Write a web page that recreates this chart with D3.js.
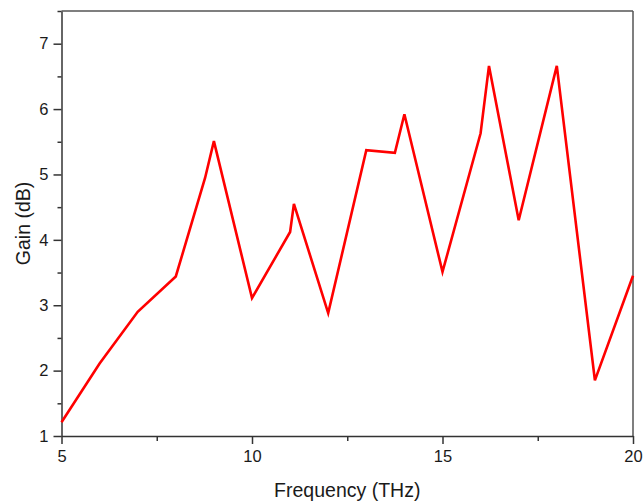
<!DOCTYPE html>
<html>
<head>
<meta charset="utf-8">
<script src="https://cdn.jsdelivr.net/npm/d3@7"></script>
<style>
  html, body { margin: 0; padding: 0; background: #fff; }
  svg { display: block; font-family: "Liberation Sans", Arial, sans-serif; }
</style>
</head>
<body>
<svg id="chart" width="643" height="503"></svg>
<script>
const frequency = [5, 6, 7, 8, 8.77, 9, 10, 11, 11.1, 12, 13, 13.75, 14, 15, 16, 16.22, 17, 18, 19, 20];
const gain      = [1.21, 2.11, 2.9, 3.44, 4.95, 5.51, 3.11, 4.12, 4.55, 2.88, 5.37, 5.33, 5.92, 3.51, 5.63, 6.66, 4.3, 6.66, 1.85, 3.45];
const xMajorTicks = [5, 10, 15, 20];
const xMinorTicks = [7.5, 12.5, 17.5];
const yMajorTicks = [1, 2, 3, 4, 5, 6, 7];
const yMinorTicks = [1.5, 2.5, 3.5, 4.5, 5.5, 6.5, 7.5];
const xTitle = "Frequency (THz)";
const yTitle = "Gain (dB)";

const svg = d3.select("#chart");
const m = { left: 61.5, right: 633, top: 11, bottom: 436 };

const x = d3.scaleLinear().domain([5, 20]).range([m.left, m.right]);
const y = d3.scaleLinear().domain([1, 7.5]).range([m.bottom, m.top]);

const axisColor = "#333";

// frame top & right
svg.append("line").attr("x1", m.left).attr("x2", m.right).attr("y1", m.top).attr("y2", m.top)
  .attr("stroke", "#555").attr("stroke-width", 1.5);
svg.append("line").attr("x1", m.right).attr("x2", m.right).attr("y1", m.top).attr("y2", m.bottom)
  .attr("stroke", "#555").attr("stroke-width", 1.5);

// bottom axis
const xAxis = svg.append("g").attr("transform", `translate(0,${m.bottom})`)
  .call(d3.axisBottom(x).tickValues(xMajorTicks).tickSize(8).tickSizeOuter(0).tickPadding(6).tickFormat(d3.format("d")));
const xMinor = svg.append("g").attr("transform", `translate(0,${m.bottom})`)
  .call(d3.axisBottom(x).tickValues(xMinorTicks).tickSize(5).tickSizeOuter(0).tickFormat(""));
xMinor.select(".domain").remove();

// left axis
const yAxis = svg.append("g").attr("transform", `translate(${m.left},0)`)
  .call(d3.axisLeft(y).tickValues(yMajorTicks).tickSize(8).tickSizeOuter(0).tickPadding(5).tickFormat(d3.format("d")));
const yMinor = svg.append("g").attr("transform", `translate(${m.left},0)`)
  .call(d3.axisLeft(y).tickValues(yMinorTicks).tickSize(4).tickSizeOuter(0).tickFormat(""));
yMinor.select(".domain").remove();

[xAxis, xMinor, yAxis, yMinor].forEach(g => {
  g.selectAll("path.domain").attr("stroke", axisColor).attr("stroke-width", 1.5);
  g.selectAll(".tick line").attr("stroke", axisColor).attr("stroke-width", 1.5);
  g.selectAll(".tick text").attr("fill", "#1a1a1a").style("font-size", "16.5px");
});

// line
const line = d3.line().x((d, i) => x(frequency[i])).y(d => y(d));
svg.append("path").datum(gain)
  .attr("d", line)
  .attr("fill", "none")
  .attr("stroke", "#ff0000")
  .attr("stroke-width", 2.6)
  .attr("stroke-linejoin", "miter");

// titles
svg.append("text").attr("x", (m.left + m.right) / 2).attr("y", 497)
  .attr("text-anchor", "middle").attr("fill", "#1a1a1a").style("font-size", "19.5px").text(xTitle);
svg.append("text").attr("transform", `translate(30,${(m.top + m.bottom) / 2}) rotate(-90)`)
  .attr("text-anchor", "middle").attr("fill", "#1a1a1a").style("font-size", "19.5px").text(yTitle);
</script>
</body>
</html>
